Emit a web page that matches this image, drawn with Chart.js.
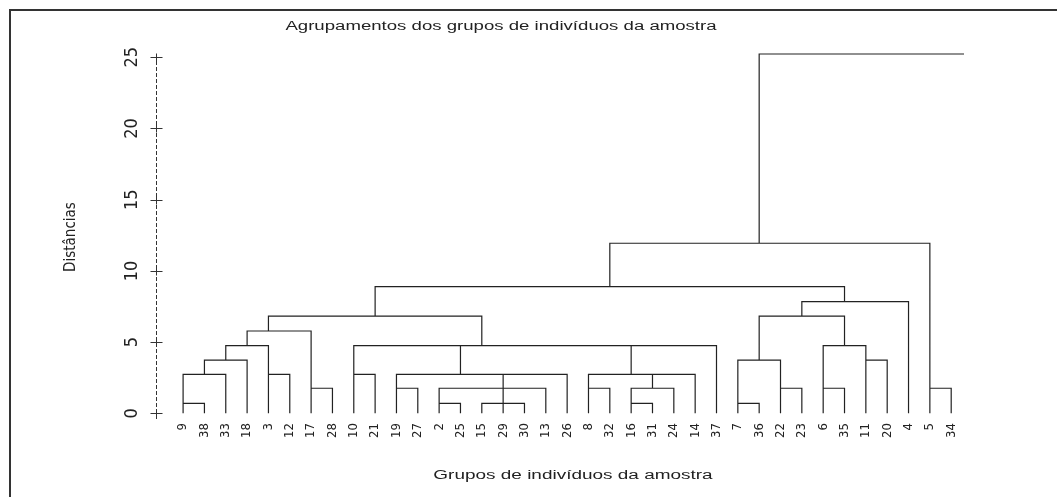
<!DOCTYPE html>
<html>
<head>
<meta charset="utf-8">
<title>Agrupamentos dos grupos de indivíduos da amostra</title>
<script src="https://cdn.jsdelivr.net/npm/chart.js@4.4.1/dist/chart.umd.min.js"></script>
<style>
    html, body { margin: 0; padding: 0; background: #fff; }
    #wrap { width: 1057px; height: 497px; }
</style>
</head>
<body>
<div id="wrap"><canvas id="dendroChart"></canvas></div>
<script>
// folhas na ordem em que aparecem no eixo x (número do indivíduo)
const leafOrder = [9, 38, 33, 18, 3, 12, 17, 28, 10, 21, 19, 27, 2, 25, 15, 29, 30, 13, 26,
    8, 32, 16, 31, 24, 14, 37, 7, 36, 22, 23, 6, 35, 11, 20, 4, 5, 34];

// fusões no estilo hclust: negativo = indivíduo, positivo = passo anterior
const mergeA = [-9, 1, 2, -3, 3, -17, 5, -10, -19, -2, -15, 11, 10, 13, 14, 9, -8, -16, 18, 19, 17, 16, 22, 8, 7,
    -7, -22, 26, -6, -11, 29, 28, 32, 25, -5, 34];
const mergeB = [-38, -33, -18, -12, 4, -28, 6, -21, -27, -25, -29, -30, 12, -13, -26, 15, -32, -31, -24, -14, 20, 21, -37, 23, 24,
    -36, -23, 27, -35, -20, 30, 31, -4, 33, -34, 35];
const mergeHeight = [0.70, 2.74, 3.74, 2.74, 4.75, 1.76, 5.78, 2.74, 1.76, 0.70, 0.70, 0.70, 1.76, 1.76, 2.74, 2.74, 1.76, 0.70, 1.76, 2.74, 2.74, 4.75, 4.75, 4.75, 6.83,
    0.70, 1.76, 3.74, 1.76, 3.74, 4.75, 6.83, 7.84, 8.89, 1.76, 11.94];
const rootHeight = 25.23;

const yTicks = [0, 5, 10, 15, 20, 25];

const xMin = -1.27, xMax = 36.6;
const yMin = -0.47, yMax = 25.23;

const narrowFont = '"Liberation Sans Narrow", "DejaVu Sans Condensed", "Arial Narrow", sans-serif';
const ink = '#222';

// monta os segmentos do dendrograma (vertical - horizontal - vertical)
const position = {};
leafOrder.forEach((n, i) => { position[n] = i; });
const anchor = [];
const level = [];
function node(ref) {
    if (ref < 0) return { x: position[-ref], h: 0 };
    return { x: anchor[ref - 1], h: level[ref - 1] };
}
const segments = [];
for (let i = 0; i < mergeA.length; i++) {
    const a = node(mergeA[i]);
    const b = node(mergeB[i]);
    const h = mergeHeight[i];
    segments.push({ x: a.x, y: a.h }, { x: a.x, y: h }, { x: b.x, y: h }, { x: b.x, y: b.h }, { x: null, y: null });
    anchor.push(Math.floor((a.x + b.x) / 2));
    level.push(h);
}
const rootNode = node(mergeA.length);
segments.push({ x: rootNode.x, y: rootNode.h }, { x: rootNode.x, y: rootHeight }, { x: xMax, y: rootHeight });

function drawStretched(ctx, text, cx, cy, sx) {
    ctx.save();
    ctx.translate(cx, cy);
    ctx.scale(sx, 1);
    ctx.font = '12px "Liberation Sans", Arial, sans-serif';
    ctx.fillStyle = ink;
    ctx.textAlign = 'center';
    ctx.textBaseline = 'middle';
    ctx.fillText(text, 0, 0);
    ctx.restore();
}

// moldura + títulos + eixo y tracejado com marcas "+"
const decorations = {
    id: 'decorations',
    beforeDraw(chart) {
        const ctx = chart.ctx;
        ctx.save();
        ctx.fillStyle = '#fff';
        ctx.fillRect(0, 0, chart.width, chart.height);
        ctx.strokeStyle = '#333';
        ctx.lineWidth = 2;
        ctx.beginPath();
        ctx.moveTo(10, chart.height);
        ctx.lineTo(10, 10);
        ctx.lineTo(chart.width, 10);
        ctx.stroke();
        ctx.restore();
    },
    afterDraw(chart) {
        const ctx = chart.ctx;
        const yScale = chart.scales.y;
        const area = chart.chartArea;
        const x0 = Math.round(area.left) + 0.5;
        ctx.save();
        ctx.strokeStyle = '#333';
        ctx.lineWidth = 1;
        ctx.setLineDash([4, 2]);
        ctx.beginPath();
        ctx.moveTo(x0, area.top + 1);
        ctx.lineTo(x0, area.bottom);
        ctx.stroke();
        ctx.setLineDash([]);
        yTicks.forEach(v => {
            const py = Math.round(yScale.getPixelForValue(v)) + 0.5;
            ctx.beginPath();
            ctx.moveTo(x0 - 6, py);
            ctx.lineTo(x0 + 6, py);
            ctx.moveTo(x0, py - 4);
            ctx.lineTo(x0, py + 4);
            ctx.stroke();
        });
        ctx.restore();
        drawStretched(ctx, 'Agrupamentos dos grupos de indivíduos da amostra', 501, 27, 1.55);
        drawStretched(ctx, 'Grupos de indivíduos da amostra', 573, 476, 1.58);
    }
};

const chartCtx = document.getElementById('dendroChart').getContext('2d');
const chart = new Chart(chartCtx, {
    type: 'scatter',
    data: {
        datasets: [{
            data: segments,
            showLine: true,
            spanGaps: false,
            borderColor: ink,
            borderWidth: 1.2,
            pointRadius: 0,
            clip: false
        }]
    },
    options: {
        responsive: true,
        maintainAspectRatio: false,
        animation: false,
        layout: { padding: { left: 58, right: 93, top: 54, bottom: 0 } },
        plugins: {
            legend: { display: false },
            tooltip: { enabled: false },
            title: { display: false }
        },
        scales: {
            x: {
                type: 'linear',
                min: xMin,
                max: xMax,
                afterFit: s => { s.height = 77; },
                afterBuildTicks: s => { s.ticks = leafOrder.map((_, i) => ({ value: i })); },
                grid: { display: false, drawTicks: false },
                border: { display: false },
                ticks: {
                    autoSkip: false,
                    minRotation: 90,
                    maxRotation: 90,
                    padding: 3,
                    color: ink,
                    font: { family: narrowFont, size: 13 },
                    callback: v => String(leafOrder[v])
                }
            },
            y: {
                type: 'linear',
                min: yMin,
                max: yMax,
                afterFit: s => { s.width = 98; },
                afterBuildTicks: s => { s.ticks = yTicks.map(v => ({ value: v })); },
                grid: { display: false, drawTicks: false },
                border: { display: false },
                ticks: {
                    minRotation: 90,
                    maxRotation: 90,
                    crossAlign: 'center',
                    padding: 13,
                    color: ink,
                    font: { family: narrowFont, size: 18 }
                },
                title: {
                    display: true,
                    text: 'Distâncias',
                    color: ink,
                    font: { family: narrowFont, size: 15 },
                    padding: { top: 4, bottom: 4 }
                }
            }
        }
    },
    plugins: [decorations]
});
</script>
</body>
</html>
